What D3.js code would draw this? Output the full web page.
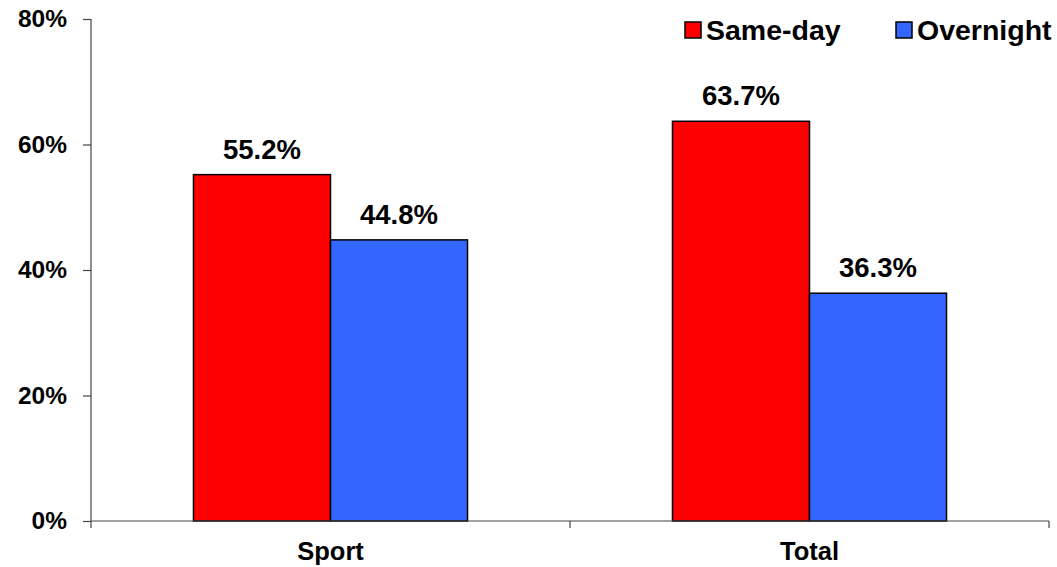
<!DOCTYPE html>
<html>
<head>
<meta charset="utf-8">
<script src="https://cdn.jsdelivr.net/npm/d3@7"></script>
<style>
  html, body { margin: 0; padding: 0; background: #fff; }
  svg { display: block; font-family: "Liberation Sans", Arial, sans-serif; font-weight: bold; }
</style>
</head>
<body>
<svg id="chart" width="1057" height="567"></svg>
<script>
// Share of trips by trip type
const categories = ["Sport", "Total"];
const seriesNames = ["Same-day", "Overnight"];
const sameDay = [55.2, 63.7];
const overnight = [44.8, 36.3];
const yTicks = [0, 20, 40, 60, 80];
const colors = ["#FF0000", "#3366FF"];

const values = [sameDay, overnight];

const svg = d3.select("#chart");
const plotLeft = 91, plotRight = 1049, plotTop = 19, plotBottom = 521;
const fontFam = "Liberation Sans, Arial, sans-serif";

const y = d3.scaleLinear().domain([0, 80]).range([plotBottom, plotTop]);
const x0 = d3.scaleBand().domain(categories).range([plotLeft, plotRight]).padding(0);
const x1 = d3.scaleBand().domain(seriesNames).range([0, x0.bandwidth()])
  .paddingInner(0).paddingOuter(0.748);

// bars with value labels
categories.forEach((cat, ci) => {
  seriesNames.forEach((s, si) => {
    const v = values[si][ci];
    const bx = x0(cat) + x1(s);
    svg.append("rect")
      .attr("x", bx)
      .attr("y", y(v))
      .attr("width", x1.bandwidth())
      .attr("height", y(0) - y(v))
      .attr("fill", colors[si])
      .attr("stroke", "#000")
      .attr("stroke-width", 1.5);
    svg.append("text")
      .attr("x", bx + x1.bandwidth() / 2)
      .attr("y", y(v) - 16)
      .attr("text-anchor", "middle")
      .attr("font-size", 27.5)
      .attr("fill", "#000")
      .text(v.toFixed(1) + "%");
  });
});

// y axis
const yAxis = d3.axisLeft(y).tickValues(yTicks).tickFormat(d => d + "%")
  .tickSize(8).tickPadding(16);
const gy = svg.append("g").attr("transform", `translate(${plotLeft},0)`).call(yAxis);
gy.select(".domain").attr("stroke", "#444").attr("stroke-width", 1.2).attr("d", `M0,${plotTop}V${plotBottom}`);
gy.selectAll(".tick line").attr("stroke", "#444").attr("stroke-width", 1.2);
gy.selectAll(".tick text").attr("font-size", 24.5).attr("font-family", fontFam)
  .attr("font-weight", "bold").attr("fill", "#000");

// x axis
const xAxis = d3.axisBottom(x0).tickSize(0).tickPadding(21);
const gx = svg.append("g").attr("transform", `translate(0,${plotBottom})`).call(xAxis);
gx.select(".domain").attr("stroke", "#444").attr("stroke-width", 1.2).attr("d", `M${plotLeft},0H${plotRight}`);
gx.selectAll(".tick text").attr("font-size", 25.5).attr("font-family", fontFam)
  .attr("font-weight", "bold").attr("fill", "#000");
// category boundary ticks
const bounds = categories.map(c => x0(c)).concat([x0(categories[categories.length - 1]) + x0.bandwidth()]);
svg.append("g").selectAll("line").data(bounds).join("line")
  .attr("x1", d => d).attr("x2", d => d)
  .attr("y1", plotBottom).attr("y2", plotBottom + 7)
  .attr("stroke", "#444").attr("stroke-width", 1.2);

// legend
const legendX = [685, 896];
const lg = svg.append("g");
seriesNames.forEach((s, i) => {
  lg.append("rect").attr("x", legendX[i]).attr("y", 22).attr("width", 16).attr("height", 16)
    .attr("fill", colors[i]).attr("stroke", "#000").attr("stroke-width", 1.5);
  lg.append("text").attr("x", legendX[i] + 21).attr("y", 39.5).attr("font-size", 28.5)
    .attr("fill", "#000").text(s);
});
</script>
</body>
</html>
